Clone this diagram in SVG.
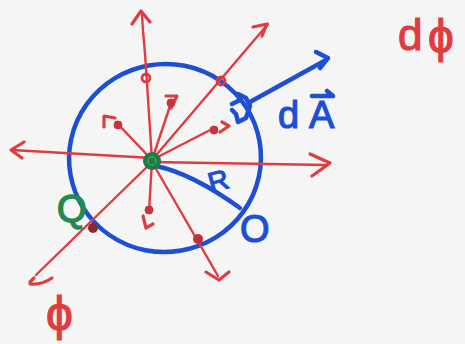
<svg xmlns="http://www.w3.org/2000/svg" width="465" height="344" viewBox="0 0 465 344">
<style>
.r{stroke:#e23b3f;fill:none;stroke-width:2.4;stroke-linecap:round;stroke-linejoin:round}
.rb{stroke:#e23b3f;fill:none;stroke-width:3.2;stroke-linecap:round;stroke-linejoin:round}
.b{stroke:#1d4fd6;fill:none;stroke-width:4.5;stroke-linecap:round;stroke-linejoin:round}
.dot{fill:#c8343a;stroke:#c8343a;stroke-width:1}
.ring{fill:none;stroke:#d93a3e;stroke-width:2.8}
.tr{fill:#e23b3f;stroke:#e23b3f;stroke-width:1.2;font-family:"Liberation Sans",Arial,sans-serif}
.tb{fill:#1d4fd6;stroke:#1d4fd6;stroke-width:1.2;font-family:"Liberation Sans",Arial,sans-serif}
.tg{fill:#238a4f;stroke:#238a4f;stroke-width:1.5;font-family:"Liberation Sans",Arial,sans-serif}
</style>
<rect width="465" height="344" fill="#f5f5f6"/>
<!-- blue sphere -->
<ellipse class="b" cx="165" cy="158" rx="96" ry="94" transform="rotate(-10 165 158)"/>
<!-- radius -->
<path class="b" d="M156,166 C185,172 215,190 240,208"/>
<!-- dA arrow -->
<path class="b" d="M250,102 L326,60"/>
<path class="b" d="M316,52 L328,58 L320,68"/>
<path class="b" d="M232,104 L240,100 L238,94 L246,98 L250,106 L246,118 L238,122 L236,114 L232,110" stroke-width="3.2"/>
<!-- red field lines -->
<g>
<path class="r" d="M152,160 L146,68 C145,50 143,35 142,15"/>
<path class="rb" d="M132,24 L141,11 L150,22"/>
<path class="r" d="M152,160 L268,24"/>
<path class="rb" d="M253,27 L267,24 L262,36"/>
<path class="r" d="M152,158 L12,150"/>
<path class="rb" d="M24,142 L11,150 L22,158"/>
<path class="r" d="M152,162 L326,165"/>
<path class="rb" d="M310,154 L330,163 L312,176"/>
<path class="r" d="M152,162 L36,275"/>
<path class="rb" d="M30,282 L34,278 M30,284 C40,285 46,282 52,278"/>
<path class="r" d="M152,162 L218,276"/>
<path class="rb" d="M206,272 L219,280 L229,272"/>
<path class="r" d="M152,160 L172,100"/>
<path class="rb" d="M166,96 L177,96 L171,108"/>
<path class="r" d="M152,160 L116,122"/>
<path class="rb" d="M104,127 L104,116 L115,118"/>
<path class="r" d="M152,160 L214,128"/>
<path class="rb" d="M222,122 L229,126 L220,132"/>
<path class="r" d="M152,160 L149,212"/>
<path class="rb" d="M143,216 L146,228 L153,224"/>
</g>
<!-- markers on lines -->
<circle class="ring" cx="146" cy="78" r="4"/>
<circle class="ring" cx="221" cy="81" r="4"/>
<circle class="dot" cx="171" cy="103" r="4"/>
<circle class="dot" cx="118" cy="125" r="4"/>
<circle class="dot" cx="214" cy="130" r="4"/>
<circle class="dot" cx="149" cy="210" r="4"/>
<circle cx="93" cy="228" r="5" fill="#8a2a2e"/>
<circle cx="198" cy="239" r="5" fill="#c0303a"/>
<!-- central charge -->
<circle cx="152" cy="161" r="9" fill="#1f7a44"/>
<circle cx="152" cy="161" r="4" fill="none" stroke="#3aa06a" stroke-width="1.5"/>
<!-- labels -->
<text class="tb" x="208" y="190" font-size="28" transform="rotate(-15 220 180)">R</text>
<text class="tb" x="240" y="242" font-size="38">O</text>
<text class="tb" x="278" y="128" font-size="38">d</text>
<text class="tb" x="309" y="128" font-size="38">A</text>
<path class="b" d="M312,96 L333,96 M327,91 L333,96" stroke-width="3"/>
<text class="tg" x="57" y="222" font-size="38">Q</text>
<text class="tr" x="398" y="50" font-size="44">d</text>
<text class="tr" x="428" y="52" font-size="46">ϕ</text>
<text class="tr" x="46" y="330" font-size="48">ϕ</text>
</svg>
